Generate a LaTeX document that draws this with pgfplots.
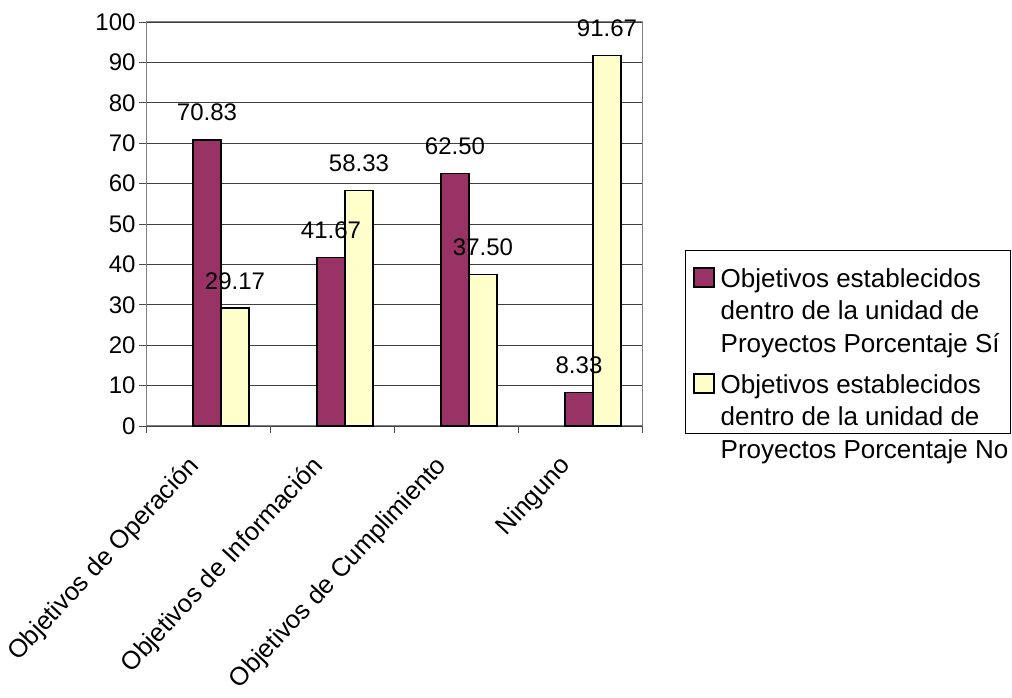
\documentclass[border=0pt]{standalone}
\usepackage{fontspec}
\setmainfont{Liberation Sans}
\usepackage{pgfplots}
\pgfplotsset{compat=1.18}
\definecolor{maroonx}{HTML}{993366}
\definecolor{creamx}{HTML}{FFFFCC}
\begin{document}
\begin{tikzpicture}[x=1pt,y=1pt]
\path[use as bounding box] (0,0) rectangle (1012,698);
\begin{axis}[
  at={(146pt,272pt)}, anchor=south west,
  scale only axis, width=496pt, height=404pt,
  clip=false,
  xmin=-0.5, xmax=3.5, ymin=0, ymax=100,
  ytick={0,10,...,100},
  ymajorgrids, grid style={black!75, line width=0.9pt},
  axis line style={gray, line width=1pt},
  tick style={black!70, line width=0.9pt},
  tick align=outside, major tick length=7pt,
  xtick pos=bottom, ytick pos=left,
  xtick={-0.5,0.5,1.5,2.5,3.5}, xticklabels={},
  extra x ticks={0,1,2,3},
  extra x tick labels={Objetivos de Operación, Objetivos de Información, Objetivos de Cumplimiento, Ninguno},
  extra x tick style={major tick length=0pt, grid=none,
     xticklabel style={xshift=-22pt, yshift=-23pt, rotate=47, anchor=north east, font=\fontsize{25.5}{30}\selectfont}},
  tick label style={font=\fontsize{24}{28}\selectfont},
  /pgf/number format/assume math mode=true,
  legend style={at={(1.0827,0.4356)}, anchor=north west, draw=none, fill=none,
     font=\fontsize{26}{32.5}\selectfont, cells={align=left}, inner xsep=10pt, inner ysep=16pt, row sep=17pt, column sep=4pt},
  legend cell align=left,
  legend image code/.code={\draw[#1, line width=1.5pt] (0pt,24pt) rectangle (20pt,43pt);},
  nodes near coords={\pgfmathprintnumber[fixed,fixed zerofill,precision=2]{\pgfplotspointmeta}},
  every node near coord/.append style={font=\fontsize{24}{28}\selectfont, inner sep=0pt, yshift=18pt, anchor=south},
]
\addplot[ybar, bar width=28pt, bar shift=-1pt, fill=maroonx, draw=black, line width=1.5pt,
  every node near coord/.append style={xshift=-1pt}]
  coordinates {(0,70.83) (1,41.67) (2,62.50) (3,8.33)};
\addlegendentry{Objetivos establecidos\\dentro de la unidad de\\Proyectos Porcentaje Sí}
\addplot[ybar, bar width=28pt, bar shift=27pt, fill=creamx, draw=black, line width=1.5pt,
  every node near coord/.append style={xshift=27pt}]
  coordinates {(0,29.17) (1,58.33) (2,37.50) (3,91.67)};
\addlegendentry{Objetivos establecidos\\dentro de la unidad de\\Proyectos Porcentaje No}
\draw[black, line width=0.9pt] (axis description cs:1.0867,0.4356) rectangle (axis description cs:1.742,-0.0173);
\end{axis}
\end{tikzpicture}
\end{document}
